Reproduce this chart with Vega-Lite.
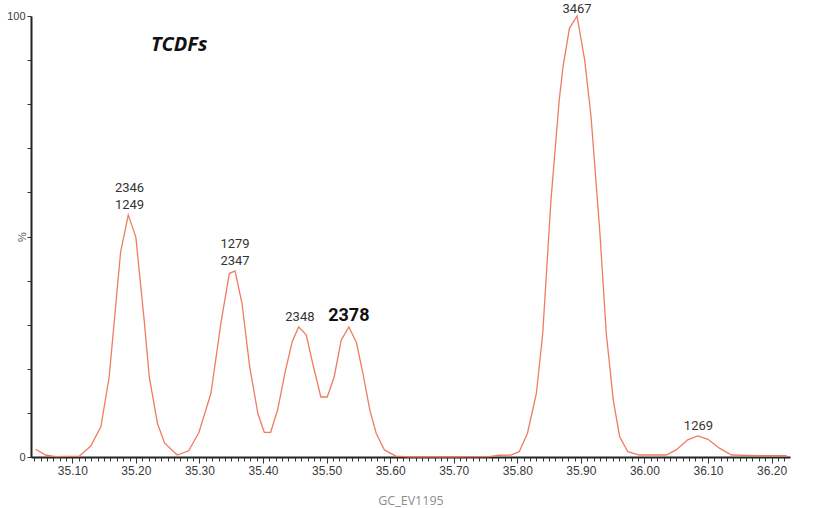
{
  "$schema": "https://vega.github.io/schema/vega-lite/v6.json",
  "width": 759,
  "height": 441,
  "autosize": {"type": "none"},
  "padding": {"left": 31, "top": 16, "right": 27, "bottom": 51},
  "background": "white",
  "config": {"view": {"stroke": null}, "font": "Liberation Sans"},
  "datasets": {
    "trace": [
      {"t": 35.042, "v": 1.75}, {"t": 35.058, "v": 0.45}, {"t": 35.074, "v": 0.1}, {"t": 35.111, "v": 0.2},
      {"t": 35.129, "v": 2.5}, {"t": 35.145, "v": 6.9}, {"t": 35.158, "v": 18.2}, {"t": 35.176, "v": 46.5},
      {"t": 35.188, "v": 54.9}, {"t": 35.2, "v": 49.8}, {"t": 35.213, "v": 31.1}, {"t": 35.221, "v": 18.2},
      {"t": 35.234, "v": 7.6}, {"t": 35.245, "v": 3.2}, {"t": 35.265, "v": 0.45}, {"t": 35.283, "v": 1.4},
      {"t": 35.299, "v": 5.5}, {"t": 35.318, "v": 14.4}, {"t": 35.334, "v": 30.6}, {"t": 35.347, "v": 41.6},
      {"t": 35.356, "v": 42.2}, {"t": 35.367, "v": 34.8}, {"t": 35.379, "v": 20.5}, {"t": 35.392, "v": 9.8},
      {"t": 35.402, "v": 5.6}, {"t": 35.412, "v": 5.6}, {"t": 35.423, "v": 10.7}, {"t": 35.435, "v": 19.4},
      {"t": 35.446, "v": 26.2}, {"t": 35.456, "v": 29.5}, {"t": 35.468, "v": 27.7}, {"t": 35.478, "v": 21.3},
      {"t": 35.491, "v": 13.6}, {"t": 35.501, "v": 13.6}, {"t": 35.512, "v": 18.2}, {"t": 35.523, "v": 26.5},
      {"t": 35.535, "v": 29.5}, {"t": 35.547, "v": 25.9}, {"t": 35.557, "v": 19.1}, {"t": 35.568, "v": 10.7},
      {"t": 35.578, "v": 5.4}, {"t": 35.591, "v": 1.6}, {"t": 35.609, "v": 0.2}, {"t": 35.63, "v": 0.05},
      {"t": 35.7, "v": 0.05}, {"t": 35.756, "v": 0.07}, {"t": 35.772, "v": 0.4}, {"t": 35.79, "v": 0.45},
      {"t": 35.803, "v": 1.2}, {"t": 35.816, "v": 5.4}, {"t": 35.83, "v": 14.4}, {"t": 35.84, "v": 28.0},
      {"t": 35.853, "v": 58.3}, {"t": 35.866, "v": 81.0}, {"t": 35.872, "v": 88.5}, {"t": 35.882, "v": 97.2},
      {"t": 35.894, "v": 100}, {"t": 35.906, "v": 90.0}, {"t": 35.916, "v": 77.2}, {"t": 35.93, "v": 50.7},
      {"t": 35.94, "v": 28.0}, {"t": 35.951, "v": 12.9}, {"t": 35.961, "v": 4.6}, {"t": 35.974, "v": 1.2},
      {"t": 35.992, "v": 0.45}, {"t": 36.034, "v": 0.45}, {"t": 36.05, "v": 1.6}, {"t": 36.068, "v": 3.9},
      {"t": 36.084, "v": 4.8}, {"t": 36.1, "v": 4.0}, {"t": 36.118, "v": 2.0}, {"t": 36.137, "v": 0.45},
      {"t": 36.176, "v": 0.3}, {"t": 36.224, "v": 0.3}
    ],
    "peaks": [
      {"t": 35.19, "v": 54.9, "label": "2346", "row": "upper"},
      {"t": 35.19, "v": 54.9, "label": "1249", "row": "lower"},
      {"t": 35.356, "v": 42.2, "label": "1279", "row": "upper"},
      {"t": 35.356, "v": 42.2, "label": "2347", "row": "lower"},
      {"t": 35.458, "v": 29.5, "label": "2348", "row": "lower"},
      {"t": 35.535, "v": 29.5, "label": "2378", "row": "big"},
      {"t": 35.894, "v": 100, "label": "3467", "row": "top"},
      {"t": 36.085, "v": 4.8, "label": "1269", "row": "lower"}
    ],
    "notes": [
      {"t": 35.268, "v": 93.4, "label": "TCDFs"}
    ]
  },
  "layer": [
    {
      "data": {"name": "trace"},
      "mark": {"type": "line", "color": "#ef7c60", "strokeWidth": 1.3},
      "encoding": {
        "x": {
          "field": "t", "type": "quantitative",
          "scale": {"domain": [35.035, 36.229], "nice": false, "zero": false},
          "axis": {
            "orient": "bottom", "tickCount": 12, "format": ".2f", "grid": false,
            "domain": true, "domainColor": "#222", "domainWidth": 2,
            "tickColor": "#333", "tickWidth": 1, "tickSize": 6,
            "labelFont": "Liberation Sans", "labelFontSize": 12, "labelColor": "#3a3a3a", "labelPadding": 2,
            "labelOverlap": false, "labelFlush": false,
            "title": "GC_EV1195", "titleX": 379.5, "titleY": 43, "titleAlign": "center", "titleBaseline": "middle",
            "titleFont": "Open Sans", "titleFontSize": 12.5, "titleFontWeight": "normal", "titleColor": "#8c8c8c"
          }
        },
        "y": {
          "field": "v", "type": "quantitative",
          "scale": {"domain": [0, 100], "nice": false},
          "axis": {
            "tickCount": 10, "grid": false,
            "labelExpr": "datum.value == 0 || datum.value == 100 ? datum.label : ''",
            "domain": true, "domainColor": "#222", "domainWidth": 2,
            "tickColor": "#333", "tickWidth": 1, "tickSize": 4,
            "labelFont": "Liberation Sans", "labelFontSize": 11, "labelColor": "#3a3a3a", "labelPadding": 2,
            "title": "%", "titleX": -9, "titleY": 220.5, "titleAngle": -90, "titleAlign": "center", "titleBaseline": "middle",
            "titleFont": "Liberation Sans", "titleFontSize": 11, "titleFontWeight": "normal", "titleColor": "#555"
          }
        }
      }
    },
    {
      "data": {"name": "peaks"},
      "transform": [{"filter": "datum.row == 'lower'"}],
      "mark": {"type": "text", "align": "center", "baseline": "bottom", "dy": -3,
               "font": "Roboto", "fontSize": 13, "color": "#333"},
      "encoding": {
        "x": {
          "field": "t", "type": "quantitative",
          "axis": {
            "orient": "bottom", "tickCount": 120, "labels": false, "domain": false, "grid": false,
            "tickColor": "#333", "tickWidth": 1, "tickSize": 4, "title": null
          }
        },
        "y": {"field": "v", "type": "quantitative"},
        "text": {"field": "label"}
      }
    },
    {
      "data": {"name": "peaks"},
      "transform": [{"filter": "datum.row == 'top'"}],
      "mark": {"type": "text", "align": "center", "baseline": "bottom", "dy": 0,
               "font": "Roboto", "fontSize": 13, "color": "#333"},
      "encoding": {
        "x": {"field": "t", "type": "quantitative", "axis": null},
        "y": {"field": "v", "type": "quantitative"},
        "text": {"field": "label"}
      }
    },
    {
      "data": {"name": "peaks"},
      "transform": [{"filter": "datum.row == 'upper'"}],
      "mark": {"type": "text", "align": "center", "baseline": "bottom", "dy": -20,
               "font": "Roboto", "fontSize": 13, "color": "#333"},
      "encoding": {
        "x": {"field": "t", "type": "quantitative", "axis": null},
        "y": {"field": "v", "type": "quantitative"},
        "text": {"field": "label"}
      }
    },
    {
      "data": {"name": "peaks"},
      "transform": [{"filter": "datum.row == 'big'"}],
      "mark": {"type": "text", "align": "center", "baseline": "bottom", "dy": -2,
               "font": "Roboto", "fontSize": 18, "fontWeight": "bold", "color": "#111"},
      "encoding": {
        "x": {"field": "t", "type": "quantitative", "axis": null},
        "y": {"field": "v", "type": "quantitative"},
        "text": {"field": "label"}
      }
    },
    {
      "data": {"name": "notes"},
      "mark": {"type": "text", "align": "center", "baseline": "middle",
               "font": "Open Sans", "fontSize": 20, "fontWeight": "bold", "fontStyle": "italic", "color": "#111"},
      "encoding": {
        "x": {"field": "t", "type": "quantitative", "axis": null},
        "y": {"field": "v", "type": "quantitative"},
        "text": {"field": "label"}
      }
    },
    {
      "mark": {"type": "text", "align": "left", "baseline": "middle", "dx": 8, "dy": 3,
               "font": "Liberation Sans", "fontSize": 12, "color": "#333", "text": "Tim"},
      "encoding": {
        "x": {"datum": 36.229, "type": "quantitative", "axis": null},
        "y": {"datum": 0, "type": "quantitative"}
      }
    },
    {
      "mark": {"type": "point", "shape": "triangle-right", "filled": true, "size": 18, "color": "#444", "opacity": 1},
      "encoding": {
        "x": {"datum": 36.229, "type": "quantitative", "axis": null},
        "y": {"datum": 0, "type": "quantitative"}
      }
    }
  ],
  "resolve": {"axis": {"x": "independent"}}
}
